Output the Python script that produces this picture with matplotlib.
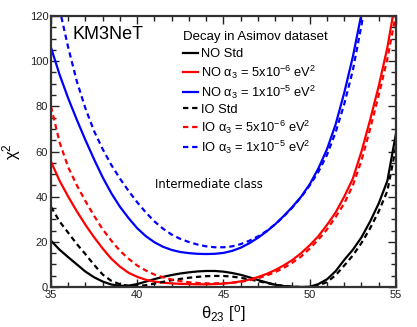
import numpy as np
import matplotlib
matplotlib.use("Agg")
from matplotlib import pyplot as plt
from matplotlib.ticker import MultipleLocator

plt.rcParams['font.family'] = ['Liberation Sans', 'DejaVu Sans']
plt.rcParams['mathtext.fontset'] = 'custom'
plt.rcParams['mathtext.rm'] = 'Liberation Sans'
plt.rcParams['mathtext.it'] = 'Liberation Sans'

# theta23 grid (degrees)
theta = [35, 35.5, 36, 36.5, 37, 37.5, 38, 38.5, 39, 39.5,
         40, 40.5, 41, 41.5, 42, 42.5, 43, 43.5, 44, 44.5,
         45, 45.5, 46, 46.5, 47, 47.5, 48, 48.5, 49, 49.5,
         50, 50.5, 51, 51.5, 52, 52.5, 53, 53.5, 54, 54.5, 55]

no_std = [20.5, 16.5, 13.2, 10, 6.8, 4.3, 2.4, 1.1, 0.5, 0.6,
          1.3, 2.4, 3.5, 4.5, 5.3, 6.0, 6.5, 6.9, 7.1, 7.1,
          6.8, 6.2, 5.4, 4.3, 3.1, 2.0, 1.0, 0.4, 0.1, 0.0,
          0.1, 1.3, 3.4, 7.0, 12.0, 16.5, 22, 29, 37, 47, 68]
no_5e6 = [55.5, 47, 40, 33.5, 27.5, 22, 17, 12.5, 9, 6.3,
          4.5, 3.2, 2.4, 1.9, 1.6, 1.4, 1.3, 1.2, 1.2, 1.3,
          1.5, 1.9, 2.5, 3.3, 4.4, 5.8, 7.5, 9.6, 12, 15,
          18.5, 22.5, 27.5, 33, 40, 48, 60, 74, 89, 106, 128]
no_1e5 = [106, 94, 83.5, 74, 65, 56.5, 48.5, 41.5, 35.5, 30.5,
          26, 22.5, 19.8, 17.8, 16.4, 15.5, 15.0, 14.7, 14.6, 14.7,
          15.1, 16.0, 17.4, 19.4, 21.8, 24.6, 27.8, 31.5, 35.5, 40,
          45.5, 52.5, 61, 72, 86, 102, 121, 142, 160, 180, 200]
io_std = [35.5, 29, 24, 19, 14.5, 9.8, 5.5, 2.7, 1.2, 0.5,
          0.4, 0.8, 1.5, 2.3, 3.0, 3.6, 4.1, 4.5, 4.8, 4.9,
          4.9, 4.6, 4.1, 3.4, 2.6, 1.8, 1.0, 0.5, 0.15, 0.0,
          0.0, 0.6, 2.2, 5.2, 9.5, 14, 19.5, 26, 33.5, 42.5, 62]
io_5e6 = [80, 64, 53, 45, 38, 31.5, 25.5, 20.5, 16, 12.5,
          9.5, 7.3, 5.5, 4.3, 3.3, 2.6, 2.1, 1.8, 1.6, 1.6,
          1.7, 1.9, 2.3, 3.0, 3.9, 5.1, 6.6, 8.5, 10.8, 13.5,
          17, 21, 25.5, 31, 37, 45, 56, 70, 85, 101, 121]
io_1e5 = [143, 123, 106, 91, 79, 69, 61, 54, 48, 42.5,
          37.5, 33, 29, 25.8, 23.2, 21.3, 19.9, 18.8, 18.0, 17.6,
          17.6, 18.0, 19.0, 20.5, 22.4, 24.8, 27.8, 31.3, 35.3, 39.8,
          45, 51, 58.5, 68.5, 81, 96, 116, 137, 160, 180, 200]

series = [
    (no_std, 'black', '-', 'NO Std'),
    (no_5e6, 'red', '-', r'NO $\mathregular{\alpha_3}$ = 5x10$^{-6}$ eV$^2$'),
    (no_1e5, 'blue', '-', r'NO $\mathregular{\alpha_3}$ = 1x10$^{-5}$ eV$^2$'),
    (io_std, 'black', '--', 'IO Std'),
    (io_5e6, 'red', '--', r'IO $\mathregular{\alpha_3}$ = 5x10$^{-6}$ eV$^2$'),
    (io_1e5, 'blue', '--', r'IO $\mathregular{\alpha_3}$ = 1x10$^{-5}$ eV$^2$'),
]

fig = plt.figure(figsize=(4.17, 3.27), dpi=100)
ax = fig.add_axes([0.1223, 0.1223, 0.8273, 0.8287])

for vals, col, ls, lab in series:
    ln, = ax.plot(theta, vals, color=col, linestyle=ls, linewidth=1.6, label=lab)
    if ls == '--':
        ln.set_dashes((2.4, 1.7))

ax.set_xlim(35, 55)
ax.set_ylim(0, 120)
ax.xaxis.set_major_locator(MultipleLocator(5))
ax.xaxis.set_minor_locator(MultipleLocator(1))
ax.yaxis.set_major_locator(MultipleLocator(20))
ax.yaxis.set_minor_locator(MultipleLocator(5))
ax.tick_params(which='both', direction='in', top=True, right=True,
               labelsize=8, colors='#222222', width=1.0, pad=2)
ax.tick_params(which='major', length=6)
ax.tick_params(which='minor', length=3.5)
for sp in ax.spines.values():
    sp.set_linewidth(1.6)
    sp.set_color('#333333')

ax.set_xlabel('θ$_{23}$ [$^o$]', fontsize=12, labelpad=2)
ax.set_ylabel('χ$^2$', fontsize=12, labelpad=5)

ax.text(0.062, 0.93, 'KM3NeT', transform=ax.transAxes, fontsize=13,
        va='center', ha='left')
ax.text(0.301, 0.38, 'Intermediate class', transform=ax.transAxes,
        fontsize=8.4, family='DejaVu Sans', va='center', ha='left')

# legend title drawn as its own text so the gap below it matches
ax.text(0.3826, 0.924, 'Decay in Asimov dataset', transform=ax.transAxes,
        fontsize=9.5, va='center', ha='left')
leg = ax.legend(loc='upper left', bbox_to_anchor=(0.375, 0.89), frameon=False,
                fontsize=9.3, handlelength=1.16, handletextpad=0.23,
                labelspacing=0.22, borderpad=0.2, borderaxespad=0)

fig.savefig('out.png', dpi=100)
